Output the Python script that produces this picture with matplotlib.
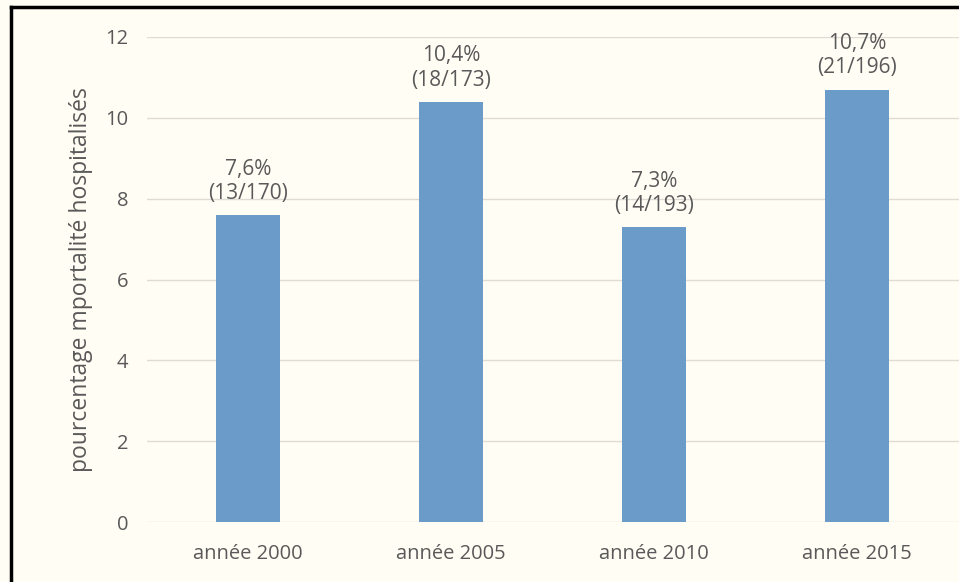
import matplotlib
matplotlib.use('Agg')
import matplotlib.pyplot as plt
from matplotlib.lines import Line2D

categories = ['année 2000', 'année 2005', 'année 2010', 'année 2015']
values = [7.6, 10.4, 7.3, 10.7]
labels = ['7,6%\n(13/170)', '10,4%\n(18/173)', '7,3%\n(14/193)', '10,7%\n(21/196)']

bg = '#FFFDF4'
txt = '#595959'
plt.rcParams['font.family'] = ['Open Sans', 'DejaVu Sans']

fig = plt.figure(figsize=(9.59, 5.82), dpi=100, facecolor=bg)
ax = fig.add_axes([146.5/959, 1 - 522/582, 812/959, 485/582])
ax.set_facecolor(bg)

x = range(len(categories))
ax.bar(x, values, width=0.32, color='#6A9BC9', zorder=3)
ax.set_xlim(-0.5, 3.5)
ax.set_ylim(0, 12)
ax.set_yticks([0, 2, 4, 6, 8, 10, 12])
ax.set_xticks(list(x))
ax.set_xticklabels(categories)
ax.grid(axis='y', color='#DEDDD5', linewidth=1, zorder=0)
for s in ax.spines.values():
    s.set_visible(False)
ax.tick_params(axis='both', length=0, labelsize=14.5, colors=txt)
ax.tick_params(axis='y', pad=13)
ax.tick_params(axis='x', pad=16)
ax.set_ylabel('pourcentage mportalité hospitalisés', fontsize=16.5, color=txt, labelpad=9)

for i, v in enumerate(values):
    ax.annotate(labels[i], (i, v), xytext=(0, 8), textcoords='offset points',
                ha='center', va='bottom', fontsize=15, color=txt, linespacing=1.2)

# black frame on left and top
fig.add_artist(Line2D([11/959, 11/959], [0, 1 - 7/582], color='black', lw=2.5, transform=fig.transFigure))
fig.add_artist(Line2D([11/959, 1], [1 - 7/582, 1 - 7/582], color='black', lw=2.5, transform=fig.transFigure))

fig.savefig('out.png', dpi=100, facecolor=bg)
